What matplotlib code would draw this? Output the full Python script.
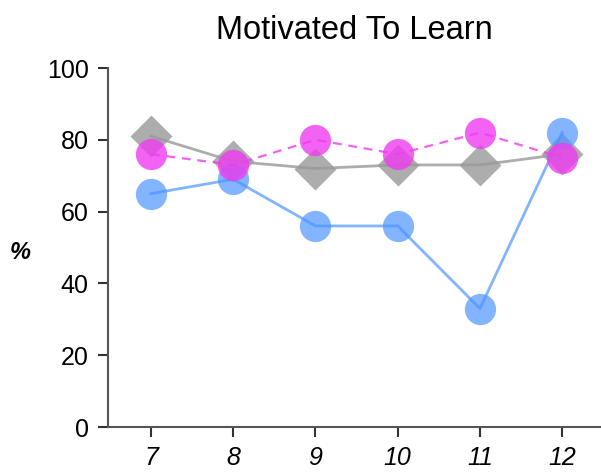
import matplotlib
matplotlib.use("Agg")
import matplotlib.pyplot as plt

plt.rcParams['font.family'] = ['Liberation Sans', 'DejaVu Sans']

grades = [7, 8, 9, 10, 11, 12]
grade_labels = ['7', '8', '9', '10', '11', '12']
blue_vals = [65, 69, 56, 56, 33, 82]
gray_vals = [81, 74, 72, 73, 73, 76]
pink_vals = [76, 73, 80, 76, 82, 75]

fig = plt.figure(figsize=(6.01, 4.73), dpi=100)
ax = fig.add_axes([108/601, 1 - 427/473, (600-108)/601, (427-68)/473])

ax.plot(grades, gray_vals, color='#999999', alpha=0.8, lw=2, marker='D', ms=21,
        mec='none', mfc='#999999', zorder=2)
ax.plot(grades, blue_vals, color='#4d94ff', alpha=0.7, lw=2, marker='o', ms=22.5,
        mec='none', zorder=3)
ax.plot(grades, pink_vals, color='#f03cf0', alpha=0.8, lw=1.6, ls=(0, (4, 3)), marker='o', ms=22.5,
        mec='none', zorder=4)

ax.set_xlim(6.477, 12.46)
ax.set_ylim(0, 100)
ax.set_yticks([0, 20, 40, 60, 80, 100])
ax.set_xticks(grades)
ax.set_xticklabels(grade_labels, fontstyle='italic')
for s in ['top', 'right']:
    ax.spines[s].set_visible(False)
for s in ['left', 'bottom']:
    ax.spines[s].set_color('#555555')
    ax.spines[s].set_linewidth(1.5)
ax.tick_params(axis='both', length=7, width=1.5, color='#333333', labelsize=18, pad=7)
ax.set_ylabel('%', rotation=0, fontsize=17, fontweight='bold', fontstyle='italic',
              ha='center', va='center')
ax.yaxis.set_label_coords(-0.179, 0.485)
ax.set_title('Motivated To Learn', fontsize=23.5, pad=21)

fig.savefig('out.png', dpi=100)
